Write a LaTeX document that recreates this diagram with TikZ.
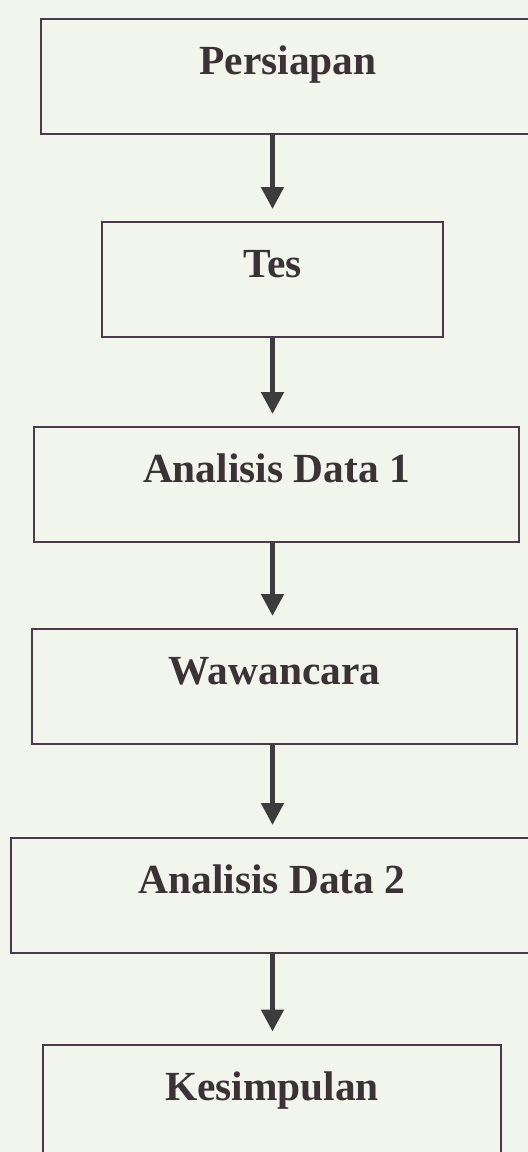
\documentclass[tikz,border=0pt]{standalone}
\usepackage{fontspec}
\setmainfont{Liberation Serif}
\usepackage{xcolor}
\usetikzlibrary{arrows.meta}
\definecolor{bgpaper}{HTML}{F1F5EC}
\definecolor{boxline}{HTML}{4B3B4A}
\definecolor{inkdark}{HTML}{3B3236}
\definecolor{arrowink}{HTML}{3D3B3B}

\begin{document}
\begin{tikzpicture}[x=0.5pt, y=-0.5pt,
  stage/.style={draw=boxline, line width=1pt, rectangle, inner sep=0pt, text=inkdark,
    font=\fontsize{20.7}{24}\selectfont\bfseries, text height=27.75pt, text depth=29.75pt},
  flow/.style={draw=arrowink, line width=2.5pt, -{Triangle[length=11pt,width=11pt]}, shorten >=6pt}]
\clip (0,0) rectangle (528,1152);
\fill[bgpaper] (0,0) rectangle (528,1152);

\node[stage, minimum width=247pt] (persiapan) at (288,76) {Persiapan};
\node[stage, minimum width=170.5pt] (tes) at (272.5,279.5) {Tes};
\node[stage, minimum width=242.5pt] (analisis1) at (276.5,484.5) {Analisis Data 1};
\node[stage, minimum width=242.5pt] (wawancara) at (274.5,686.5) {Wawancara};
\node[stage, minimum width=261pt] (analisis2) at (272,895.5) {Analisis Data 2};
\node[stage, minimum width=229pt] (kesimpulan) at (272,1102) {Kesimpulan};

\draw[flow] (persiapan.south -| tes.north) -- (tes.north);
\draw[flow] (tes.south) -- (analisis1.north -| tes.south);
\draw[flow] (analisis1.south -| tes.south) -- (wawancara.north -| tes.south);
\draw[flow] (wawancara.south -| tes.south) -- (analisis2.north -| tes.south);
\draw[flow] (analisis2.south -| tes.south) -- (kesimpulan.north -| tes.south);
\end{tikzpicture}
\end{document}
